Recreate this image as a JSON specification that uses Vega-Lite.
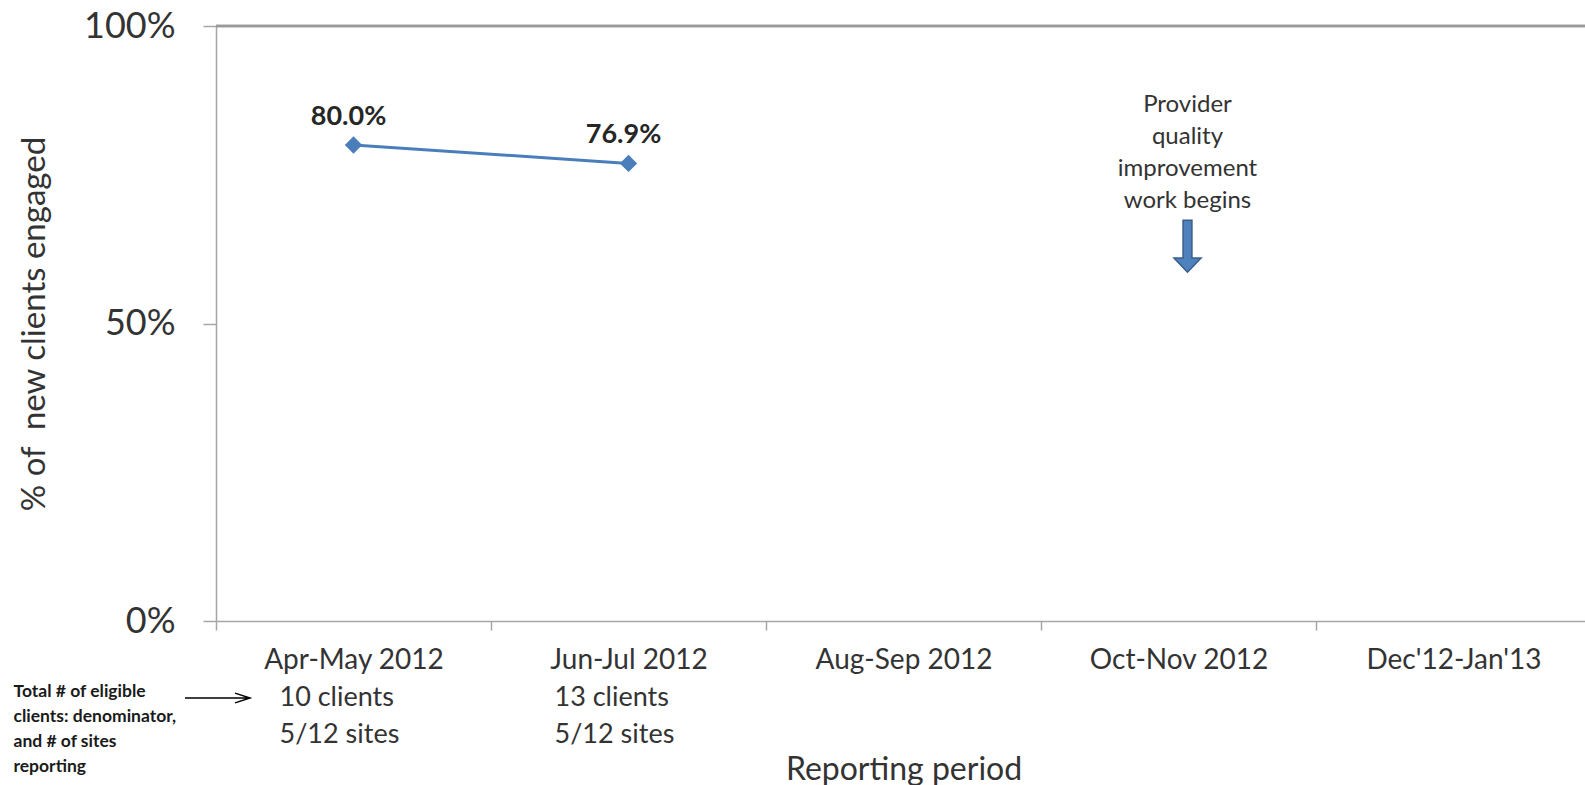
{
  "$schema": "https://vega.github.io/schema/vega-lite/v6.json",
  "autosize": {"type": "none"},
  "padding": {"left": 216, "top": 26, "right": 0, "bottom": 164},
  "width": 1369,
  "height": 595,
  "background": "white",
  "config": {
    "view": {"stroke": null},
    "font": "Lato",
    "axis": {"grid": false, "labelFont": "Lato", "titleFont": "Lato", "labelColor": "#333333", "titleColor": "#333333", "titleFontWeight": "normal", "domainColor": "#a6a6a6", "tickColor": "#a6a6a6", "domainWidth": 1.5, "tickWidth": 1.5, "labelLimit": 0}
  },
  "datasets": {
    "series": [
      {"period": "Apr-May 2012", "value": 0.8, "label": "80.0%", "clients": "10 clients", "sites": "5/12 sites"},
      {"period": "Jun-Jul 2012", "value": 0.769, "label": "76.9%", "clients": "13 clients", "sites": "5/12 sites"}
    ],
    "notes": [
      {"period": "Oct-Nov 2012", "arrowAt": 0.63, "textAt": 0.887}
    ],
    "side": [
      {"period": "Apr-May 2012", "base": 0}
    ]
  },
  "data": {"name": "series"},
  "encoding": {
    "x": {
      "field": "period", "type": "nominal",
      "scale": {"domain": ["Apr-May 2012", "Jun-Jul 2012", "Aug-Sep 2012", "Oct-Nov 2012", "Dec'12-Jan'13"], "range": [0, 1375], "paddingInner": 0, "paddingOuter": 0},
      "sort": null,
      "axis": {"title": "Reporting period", "labelAngle": 0, "tickBand": "extent", "tickSize": 9, "labelFontSize": 28, "labelPadding": 16, "labelLimit": 0, "titleFontSize": 32, "titlePadding": 80}
    }
  },
  "layer": [
    {
      "mark": {"type": "rule", "color": "#999999", "strokeWidth": 2.5},
      "encoding": {"x": null, "y": {"datum": 1, "type": "quantitative", "scale": {"domain": [0, 1]}}}
    },
    {
      "mark": {"type": "line", "color": "#4a7ebb", "strokeWidth": 3},
      "encoding": {
        "y": {"field": "value", "type": "quantitative", "scale": {"domain": [0, 1]},
          "axis": {"title": "% of\u00a0 new clients engaged", "values": [0, 0.5, 1], "format": ".0%", "tickSize": 13, "labelFontSize": 36, "labelPadding": 28, "titleFontSize": 33, "titlePadding": 32}}
      }
    },
    {
      "mark": {"type": "point", "shape": "diamond", "filled": true, "color": "#4a7ebb", "size": 300, "opacity": 1},
      "encoding": {"y": {"field": "value", "type": "quantitative"}}
    },
    {
      "mark": {"type": "text", "font": "Lato", "fontSize": 27, "fontWeight": "bold", "color": "#262626", "baseline": "middle", "dy": -28, "dx": -5},
      "encoding": {"y": {"field": "value", "type": "quantitative"}, "text": {"field": "label"}}
    },
    {
      "mark": {"type": "text", "font": "Lato", "fontSize": 27, "color": "#333333", "baseline": "middle", "align": "left", "dx": -74, "dy": 77},
      "encoding": {"y": {"datum": 0, "type": "quantitative"}, "text": {"field": "clients"}}
    },
    {
      "mark": {"type": "text", "font": "Lato", "fontSize": 27, "color": "#333333", "baseline": "middle", "align": "left", "dx": -74, "dy": 114},
      "encoding": {"y": {"datum": 0, "type": "quantitative"}, "text": {"field": "sites"}}
    },
    {
      "data": {"name": "notes"},
      "mark": {"type": "point", "shape": "M-0.17,-1L0.17,-1L0.17,0.46L0.52,0.46L0,1L-0.52,0.46L-0.17,0.46Z", "size": 2704, "filled": true, "fill": "#4f81bd", "stroke": "#385d8a", "strokeWidth": 1.5, "opacity": 1, "xOffset": 9},
      "encoding": {"y": {"field": "arrowAt", "type": "quantitative"}}
    },
    {
      "data": {"name": "notes"},
      "mark": {"type": "text", "font": "Lato", "fontSize": 24, "color": "#333333", "baseline": "top", "align": "center", "lineHeight": 32, "dx": 9,
        "text": ["Provider", "quality", "improvement", "work begins"]},
      "encoding": {"y": {"field": "textAt", "type": "quantitative"}}
    },
    {
      "data": {"name": "side"},
      "mark": {"type": "text", "font": "Lato", "fontSize": 17.5, "fontWeight": "bold", "color": "#1a1a1a", "baseline": "top", "align": "left", "lineHeight": 25, "dx": -340, "dy": 62,
        "text": ["Total # of eligible", "clients: denominator,", "and # of sites", "reporting"]},
      "encoding": {"y": {"field": "base", "type": "quantitative"}}
    },
    {
      "data": {"name": "side"},
      "mark": {"type": "point", "shape": "M-1,0L1,0M0.54,-0.15L1,0L0.54,0.15", "size": 4225, "filled": false, "stroke": "#000000", "strokeWidth": 1.5, "opacity": 1, "xOffset": -136, "yOffset": 77},
      "encoding": {"y": {"field": "base", "type": "quantitative"}}
    }
  ]
}
